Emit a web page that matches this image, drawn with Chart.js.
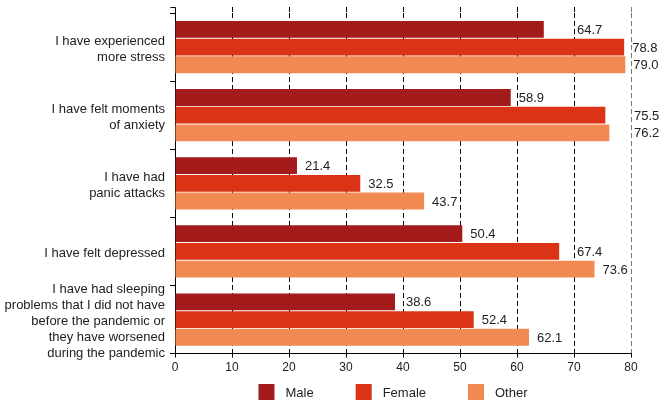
<!DOCTYPE html>
<html>
<head>
<meta charset="utf-8">
<script src="https://cdn.jsdelivr.net/npm/chart.js@4.4.1/dist/chart.umd.min.js"></script>
<style>
  html, body { margin: 0; padding: 0; background: #fff; }
  #wrap { width: 661px; height: 402px; position: relative; }
</style>
</head>
<body>
<div id="wrap"><canvas id="chart"></canvas></div>
<script>
// data
const categories = [
    ['I have experienced', 'more stress'],
    ['I have felt moments', 'of anxiety'],
    ['I have had', 'panic attacks'],
    ['I have felt depressed'],
    ['I have had sleeping', 'problems that I did not have', 'before the pandemic or', 'they have worsened', 'during the pandemic']
];
const maleValues = [64.7, 58.9, 21.4, 50.4, 38.6];
const femaleValues = [78.8, 75.5, 32.5, 67.4, 52.4];
const otherValues = [79.0, 76.2, 43.7, 73.6, 62.1];
const xTicks = [0, 10, 20, 30, 40, 50, 60, 70, 80];

const FONT = '"Liberation Sans", Arial, Helvetica, sans-serif';
const TEXT = '#222';

// value labels; nudged past a grid line if they would sit on it
const valueLabels = {
    id: 'valueLabels',
    afterDatasetsDraw(chart) {
        const ctx = chart.ctx;
        const xs = chart.scales.x;
        const gridX = xTicks.filter(v => v > 0).map(v => xs.getPixelForValue(v));
        ctx.save();
        ctx.font = '13px ' + FONT;
        ctx.fillStyle = TEXT;
        ctx.textBaseline = 'middle';
        chart.data.datasets.forEach((ds, i) => {
            chart.getDatasetMeta(i).data.forEach((bar, j) => {
                const txt = ds.data[j].toFixed(1);
                const w = ctx.measureText(txt).width;
                let x = bar.x + 8;
                for (const g of gridX) {
                    if (x - 1 <= g && x + w >= g) x = g + 3;
                }
                ctx.fillText(txt, x, bar.y + 1);
            });
        });
        ctx.restore();
    }
};

// axis line and grid run a little above the plot top
const topExtension = {
    id: 'topExtension',
    beforeDatasetsDraw(chart) {
        const ctx = chart.ctx;
        const area = chart.chartArea;
        const xs = chart.scales.x;
        const ext = 6;
        ctx.save();
        ctx.lineWidth = 1;
        ctx.setLineDash([5, 3]);
        xTicks.filter(v => v > 0).forEach(v => {
            const px = Math.round(xs.getPixelForValue(v)) + 0.5;
            ctx.strokeStyle = v === 80 ? '#777' : '#000';
            ctx.beginPath();
            ctx.moveTo(px, area.top - ext);
            ctx.lineTo(px, area.top);
            ctx.stroke();
        });
        ctx.setLineDash([]);
        ctx.strokeStyle = '#000';
        const lx = Math.round(area.left) + 0.5;
        ctx.beginPath();
        ctx.moveTo(lx - 5, area.top - ext + 0.5);
        ctx.lineTo(lx, area.top - ext + 0.5);
        ctx.lineTo(lx, area.top);
        ctx.stroke();
        ctx.restore();
    }
};

// legend drawn below the axis
const bottomLegend = {
    id: 'bottomLegend',
    afterDraw(chart) {
        const ctx = chart.ctx;
        const area = chart.chartArea;
        ctx.save();
        ctx.font = '13px ' + FONT;
        ctx.textBaseline = 'middle';
        const items = chart.data.datasets.map(ds => ({
            label: ds.label, color: ds.backgroundColor, w: ctx.measureText(ds.label).width
        }));
        const gap = 42;
        const total = items.reduce((s, it) => s + 27 + it.w, 0) + gap * (items.length - 1);
        let x = (area.left + area.right) / 2 - 10 - total / 2;
        const y = 392;
        items.forEach(it => {
            ctx.fillStyle = it.color;
            ctx.fillRect(x, y - 8, 16, 16);
            ctx.fillStyle = TEXT;
            ctx.fillText(it.label, x + 27, y + 1);
            x += 27 + it.w + gap;
        });
        ctx.restore();
    }
};

new Chart(document.getElementById('chart'), {
    type: 'bar',
    data: {
        labels: categories,
        datasets: [
            { label: 'Male', data: maleValues, backgroundColor: '#a31b1a' },
            { label: 'Female', data: femaleValues, backgroundColor: '#da3315' },
            { label: 'Other', data: otherValues, backgroundColor: '#f08a52' }
        ]
    },
    options: {
        indexAxis: 'y',
        responsive: true,
        maintainAspectRatio: false,
        animation: false,
        devicePixelRatio: 1,
        layout: { padding: { top: 13, right: 30, bottom: 24, left: 0 } },
        datasets: {
            bar: { categoryPercentage: 0.78, barPercentage: 0.95 }
        },
        plugins: {
            legend: { display: false },
            tooltip: { enabled: false }
        },
        scales: {
            x: {
                min: 0,
                max: 80,
                afterBuildTicks(scale) {
                    scale.ticks = xTicks.map(v => ({ value: v }));
                },
                border: { display: true, color: '#000', width: 1, dash: [5, 3] },
                grid: {
                    color: ctx => (ctx.tick && ctx.tick.value === 0) ? 'rgba(0,0,0,0)' : (ctx.tick && ctx.tick.value === 80 ? '#777' : '#000'),
                    tickColor: '#000',
                    tickLength: 4,
                    tickBorderDash: [],
                    drawTicks: true
                },
                ticks: {
                    color: TEXT,
                    font: { family: FONT, size: 12 },
                    padding: 3,
                    maxRotation: 0
                }
            },
            y: {
                afterFit(scale) {
                    scale.width = 175;
                    scale.paddingTop = 0;
                    scale.paddingBottom = 0;
                },
                border: { display: true, color: '#000', width: 1 },
                grid: {
                    offset: true,
                    drawOnChartArea: false,
                    drawTicks: true,
                    tickLength: 5,
                    tickColor: '#000'
                },
                ticks: {
                    autoSkip: false,
                    color: TEXT,
                    font: { family: FONT, size: 13, lineHeight: 1.23 },
                    padding: 5,
                    labelOffset: 2
                }
            }
        }
    },
    plugins: [valueLabels, topExtension, bottomLegend]
});
</script>
</body>
</html>
